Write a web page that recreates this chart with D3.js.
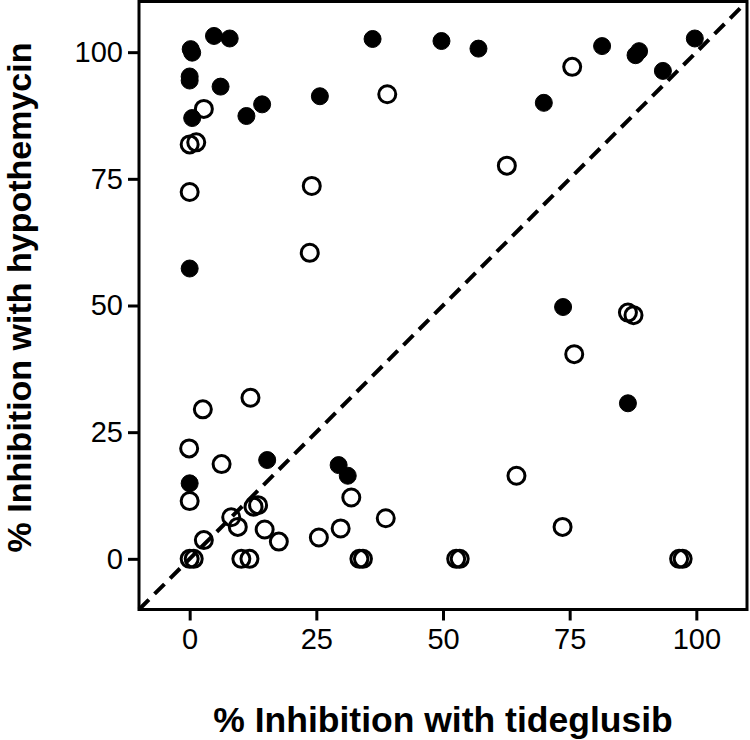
<!DOCTYPE html>
<html>
<head>
<meta charset="utf-8">
<script src="https://cdn.jsdelivr.net/npm/d3@7"></script>
<style>
  body { margin: 0; background: #fff; }
  text { font-family: "Liberation Sans", Arial, sans-serif; }
</style>
</head>
<body>
<script>
// % inhibition, x = tideglusib, y = hypothemycin
const filledX = [0.2, 0.5, 4.8, 7.9, 0, 0, 6.1, 0.5, 11.2, 14.3, 25.7, 36.1, 49.7, 57.0, 69.9, 81.4, 88.0, 88.7, 93.4, 99.7,
                 0, 73.7, 86.5, 15.3, 29.4, 31.2, 0];
const filledY = [100.6, 99.9, 103.2, 102.7, 95.2, 94.4, 93.2, 87.0, 87.4, 89.7, 91.3, 102.6, 102.2, 100.7, 90.0, 101.2, 99.4, 100.2, 96.3, 102.7,
                 57.3, 49.7, 30.7, 19.5, 18.5, 16.4, 14.9];

const openX = [2.8, 0, 1.3, 0, 24.1, 39.0, 75.5, 62.6, 23.7, 12.0, 2.6, -0.1, 6.3, 0, 31.9, 12.6, 13.5, 8.2, 9.5, 2.8,
               14.8, 17.6, 25.5, 29.8, 38.7, 0, 0.8, 10.2, 11.8, 33.5, 34.2, 52.6, 53.3, 96.6, 97.3, 86.5, 87.6, 75.9, 64.5, 73.6];
const openY = [88.8, 81.8, 82.2, 72.4, 73.6, 91.7, 97.1, 77.6, 60.4, 31.8, 29.5, 21.8, 18.7, 11.4, 12.1, 10.3, 10.6, 8.2, 6.3, 3.7,
               5.8, 3.4, 4.2, 6.0, 8.0, 0, 0, 0, 0, 0, 0, 0, 0, 0, 0, 48.6, 48.1, 40.4, 16.4, 6.3];

const ticks = [0, 25, 50, 75, 100];
const xTitle = "% Inhibition with tideglusib";
const yTitle = "% Inhibition with hypothemycin";

const width = 750, height = 740;
const margin = {left: 139, top: 1.5, right: 3, bottom: 130.5};

const svg = d3.select("body").append("svg")
    .attr("width", width)
    .attr("height", height);

const x = d3.scaleLinear().domain([-10, 110]).range([margin.left, width - margin.right]);
const y = d3.scaleLinear().domain([-10, 110]).range([height - margin.bottom, margin.top]);

// identity line
svg.append("line")
    .attr("x1", x(-10)).attr("y1", y(-10))
    .attr("x2", x(110)).attr("y2", y(110))
    .attr("stroke", "#000")
    .attr("stroke-width", 4)
    .attr("stroke-dasharray", "14,8");

const open = openX.map((v, i) => ({x: v, y: openY[i]}));
const filled = filledX.map((v, i) => ({x: v, y: filledY[i]}));

svg.append("g")
  .selectAll("circle")
  .data(open)
  .enter().append("circle")
    .attr("cx", d => x(d.x))
    .attr("cy", d => y(d.y))
    .attr("r", 8.5)
    .attr("fill", "none")
    .attr("stroke", "#000")
    .attr("stroke-width", 3);

svg.append("g")
  .selectAll("circle")
  .data(filled)
  .enter().append("circle")
    .attr("cx", d => x(d.x))
    .attr("cy", d => y(d.y))
    .attr("r", 8.5)
    .attr("fill", "#000")
    .attr("stroke", "#000")
    .attr("stroke-width", 1);

// frame
svg.append("rect")
    .attr("x", x(-10)).attr("y", y(110))
    .attr("width", x(110) - x(-10))
    .attr("height", y(-10) - y(110))
    .attr("fill", "none")
    .attr("stroke", "#000")
    .attr("stroke-width", 3);

const xAxis = svg.append("g")
    .attr("transform", `translate(0,${y(-10)})`)
    .call(d3.axisBottom(x).tickValues(ticks).tickSize(11).tickPadding(8));
const yAxis = svg.append("g")
    .attr("transform", `translate(${x(-10)},0)`)
    .call(d3.axisLeft(y).tickValues(ticks).tickSize(11).tickPadding(5));

[xAxis, yAxis].forEach(g => {
  g.select(".domain").remove();
  g.selectAll(".tick line").attr("stroke", "#000").attr("stroke-width", 3);
  g.selectAll(".tick text")
      .attr("fill", "#000")
      .style("font-size", "29px")
      .style("font-family", "'Liberation Sans', Arial, sans-serif");
});

svg.append("text")
    .attr("x", (x(-10) + x(110)) / 2)
    .attr("y", 731.5)
    .attr("text-anchor", "middle")
    .style("font-size", "35.5px")
    .style("font-weight", "bold")
    .text(xTitle);

svg.append("text")
    .attr("transform", `translate(31,${(y(-10) + y(110)) / 2 - 8}) rotate(-90)`)
    .attr("text-anchor", "middle")
    .style("font-size", "34px")
    .style("font-weight", "bold")
    .text(yTitle);
</script>
</body>
</html>
